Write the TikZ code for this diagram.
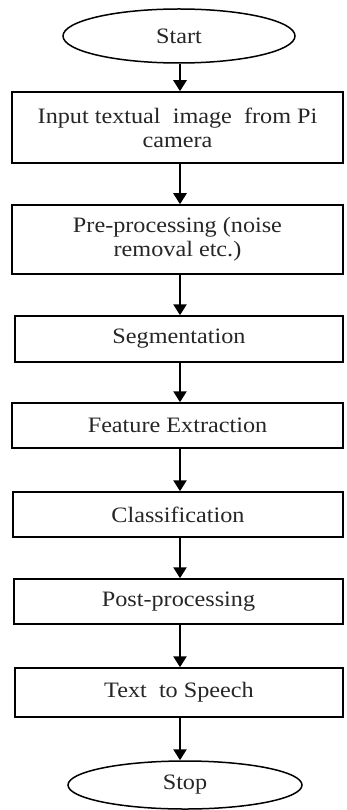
\documentclass[tikz,border=0pt]{standalone}
\usepackage{fontspec}
\setmainfont{Liberation Serif}[FakeStretch=1.1]
\usetikzlibrary{arrows.meta,shapes.geometric}

\begin{document}
\begin{tikzpicture}[x=1pt,y=-1pt,
  every node/.style={font=\fontsize{22}{24}\selectfont, text=black!85},
  terminal/.style={draw, ellipse, line width=1.5pt, inner sep=0pt},
  stepbox/.style={draw, rectangle, line width=1.5pt, inner sep=0pt, align=center},
  flow/.style={line width=2.5pt, -{Triangle[length=11pt,width=13pt]}}
]
  % page frame
  \fill[white] (0,0) rectangle (346,810);
  \useasboundingbox (0,0) rectangle (346,810);

  % terminals
  \node[terminal, minimum width=232pt, minimum height=54pt] (start) at (179,36) {Start};
  \node[terminal, minimum width=234pt, minimum height=48pt] (stop) at (185,785) {Stop};

  % processing steps (centre = middle of left/right and top/bottom edges)
  \node[stepbox, minimum width=331pt, minimum height=71pt] (inp)  at (177.5,127.5)
    {Input textual\ \ image\ \ from Pi\\camera};
  \node[stepbox, minimum width=331pt, minimum height=69pt] (pre)  at (177.5,239.5)
    {Pre-processing (noise\\removal etc.)};
  \node[stepbox, minimum width=328pt, minimum height=46pt] (seg)  at (179,339) {Segmentation};
  \node[stepbox, minimum width=331pt, minimum height=45pt] (feat) at (177.5,425.5) {Feature Extraction};
  \node[stepbox, minimum width=330pt, minimum height=45pt] (cls)  at (178,514.5) {Classification};
  \node[stepbox, minimum width=329pt, minimum height=45pt] (post) at (178.5,601.5) {Post-processing};
  \node[stepbox, minimum width=328pt, minimum height=49pt] (tts)  at (179,692.5) {Text\ \ to Speech};

  % connectors
  \draw[flow] ([xshift=1pt]start.south) -- ([xshift=1pt]start.south |- inp.north);
  \draw[flow] ([xshift=2.5pt]inp.south)  -- ([xshift=2.5pt]inp.south |- pre.north);
  \draw[flow] ([xshift=2.5pt]pre.south)  -- ([xshift=2.5pt]pre.south |- seg.north);
  \draw[flow] ([xshift=1pt]seg.south)    -- ([xshift=1pt]seg.south |- feat.north);
  \draw[flow] ([xshift=2.5pt]feat.south) -- ([xshift=2.5pt]feat.south |- cls.north);
  \draw[flow] ([xshift=2pt]cls.south)    -- ([xshift=2pt]cls.south |- post.north);
  \draw[flow] ([xshift=1.5pt]post.south) -- ([xshift=1.5pt]post.south |- tts.north);
  \draw[flow] ([xshift=1pt]tts.south)    -- ([xshift=1pt]tts.south |- stop.north);
\end{tikzpicture}
\end{document}
